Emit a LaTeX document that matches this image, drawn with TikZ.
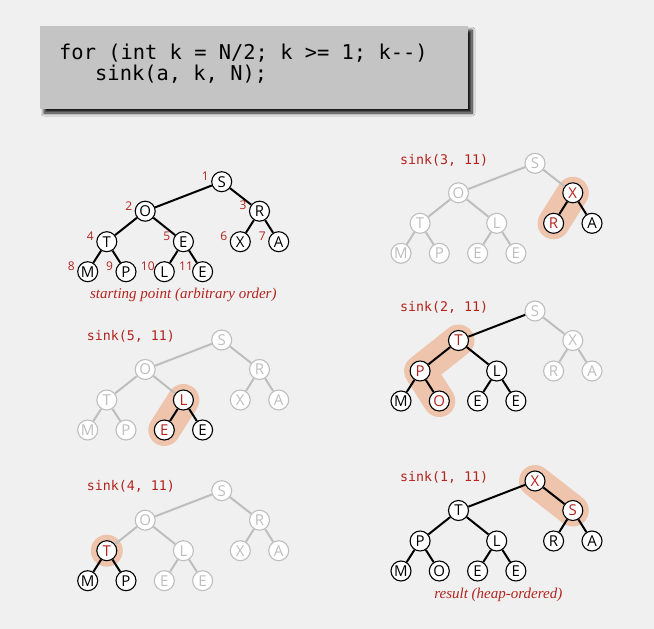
\documentclass[tikz,border=0pt]{standalone}
\usepackage{fontspec}
\usetikzlibrary{positioning,calc,shadows.blur}
\newfontfamily\heapsans{Open Sans}
\newfontfamily\codemono{DejaVu Sans Mono}[Ligatures=TeXOff]
\newfontfamily\capserif{Liberation Serif}
\definecolor{pagegray}{RGB}{240,240,240}
\definecolor{boxgray}{RGB}{196,196,196}
\definecolor{fadegray}{RGB}{190,190,190}
\definecolor{sinkred}{RGB}{180,35,30}
\definecolor{salmon}{RGB}{238,196,173}

\tikzset{
  key/.style={circle,draw=black,fill=white,minimum size=20pt,inner sep=0pt,line width=1.1pt,font=\heapsans\fontsize{15}{15}\selectfont},
  hot/.style={key,text=sinkred},
  faded/.style={key,draw=fadegray,text=fadegray},
  lnk/.style={line width=2pt},
  fadelnk/.style={line width=2pt,draw=fadegray},
  trail/.style={line width=32pt,line cap=round,line join=round,draw=salmon},
  idx/.style={text=sinkred,font=\heapsans\fontsize{12}{12}\selectfont,inner sep=0pt},
  sinklbl/.style={text=sinkred,font=\codemono\fontsize{13.3}{14}\selectfont,inner sep=0pt},
  caption/.style={text=sinkred,font=\capserif\itshape\fontsize{15}{16}\selectfont},
  codetext/.style={font=\codemono\fontsize{20.4}{24}\selectfont,inner sep=0pt}
}

% positions of the 11 heap slots below a root
\newcommand\heapcoords[3]{%
  \foreach \i/\dx/\dy in {1/0/0,2/-76.5/29.5,3/37.8/29.5,4/-114.9/60,5/-38.3/60,6/18.6/60,7/57/60,
                          8/-134/90,9/-95.7/90,10/-57.4/90,11/-19.1/90}
    {\path (#2,#3) ++(\dx,\dy) coordinate (p#1\i);}}
\newcommand\heapkeys[2]{\foreach \i/\t/\s in {#2} \node[\s] (#1\i) at (p#1\i) {\t};}
\newcommand\heaplinks[2]{\foreach \i/\s in {#2}{\pgfmathtruncatemacro\p{\i/2}\draw[\s] (#1\p) -- (#1\i);}}

\begin{document}
\begin{tikzpicture}[x=1pt,y=-1pt]
  \fill[pagegray] (0,0) rectangle (654,629);

  % the loop
  \path[fill=boxgray,blur shadow={shadow xshift=4pt,shadow yshift=-4pt,shadow blur radius=3pt,shadow blur steps=10,shadow opacity=90}] (40,26) rectangle (468,109);
  \node[codetext,anchor=base west] (forline) at (59,59) {for (int k = N/2; k >= 1; k--)};
  \node[codetext,anchor=base west] (sinkline) at (95,80) {sink(a, k, N);};

  % starting point
  \heapcoords{A}{221.7}{181.7}
  \heapkeys{A}{1/S/key,2/O/key,3/R/key,4/T/key,5/E/key,6/X/key,7/A/key,8/M/key,9/P/key,10/L/key,11/E/key}
  \heaplinks{A}{2/lnk,3/lnk,4/lnk,5/lnk,6/lnk,7/lnk,8/lnk,9/lnk,10/lnk,11/lnk}
  \foreach \i in {1,...,11} \node[idx] (iA\i) at ($(pA\i)+(-16.5,-5.5)$) {\i};
  \node[caption] (startcap) at (183.3,295) {starting point (arbitrary order)};

  % sink(5, 11)
  \heapcoords{B}{221.7}{340}
  \draw[trail] (pB5) -- (pB10);
  \heapkeys{B}{1/S/faded,2/O/faded,3/R/faded,4/T/faded,5/L/hot,6/X/faded,7/A/faded,8/M/faded,9/P/faded,10/E/hot,11/E/key}
  \heaplinks{B}{2/fadelnk,3/fadelnk,4/fadelnk,5/fadelnk,6/fadelnk,7/fadelnk,8/fadelnk,9/fadelnk,10/lnk,11/lnk}
  \node[sinklbl,left=36pt of B1,yshift=4pt] (sinkB) {sink(5, 11)};

  % sink(4, 11)
  \heapcoords{C}{221.7}{490.7}
  \fill[salmon] (pC4) circle (16);
  \heapkeys{C}{1/S/faded,2/O/faded,3/R/faded,4/T/hot,5/L/faded,6/X/faded,7/A/faded,8/M/key,9/P/key,10/E/faded,11/E/faded}
  \heaplinks{C}{2/fadelnk,3/fadelnk,4/fadelnk,5/fadelnk,6/fadelnk,7/fadelnk,8/lnk,9/lnk,10/fadelnk,11/fadelnk}
  \node[sinklbl,left=36pt of C1,yshift=4pt] (sinkC) {sink(4, 11)};

  % sink(3, 11)
  \heapcoords{D}{535}{163.3}
  \draw[trail] (pD3) -- (pD6);
  \heapkeys{D}{1/S/faded,2/O/faded,3/X/hot,4/T/faded,5/L/faded,6/R/hot,7/A/key,8/M/faded,9/P/faded,10/E/faded,11/E/faded}
  \heaplinks{D}{2/fadelnk,3/fadelnk,4/fadelnk,5/fadelnk,6/lnk,7/lnk,8/fadelnk,9/fadelnk,10/fadelnk,11/fadelnk}
  \node[sinklbl,left=36pt of D1,yshift=3pt] (sinkD) {sink(3, 11)};

  % sink(2, 11)
  \heapcoords{E}{535}{311}
  \draw[trail] (pE2) -- (pE4) -- (pE9);
  \heapkeys{E}{1/S/faded,2/T/hot,3/X/faded,4/P/hot,5/L/key,6/R/faded,7/A/faded,8/M/key,9/O/hot,10/E/key,11/E/key}
  \heaplinks{E}{2/lnk,3/fadelnk,4/lnk,5/lnk,6/fadelnk,7/fadelnk,8/lnk,9/lnk,10/lnk,11/lnk}
  \node[sinklbl,left=36pt of E1,yshift=4pt] (sinkE) {sink(2, 11)};

  % sink(1, 11)
  \heapcoords{F}{535}{481}
  \draw[trail] (pF1) -- (pF3);
  \heapkeys{F}{1/X/hot,2/T/key,3/S/hot,4/P/key,5/L/key,6/R/key,7/A/key,8/M/key,9/O/key,10/E/key,11/E/key}
  \heaplinks{F}{2/lnk,3/lnk,4/lnk,5/lnk,6/lnk,7/lnk,8/lnk,9/lnk,10/lnk,11/lnk}
  \node[sinklbl,left=36pt of F1,yshift=4pt] (sinkF) {sink(1, 11)};
  \node[caption] (resultcap) at (498.3,595) {result (heap-ordered)};
\end{tikzpicture}
\end{document}
